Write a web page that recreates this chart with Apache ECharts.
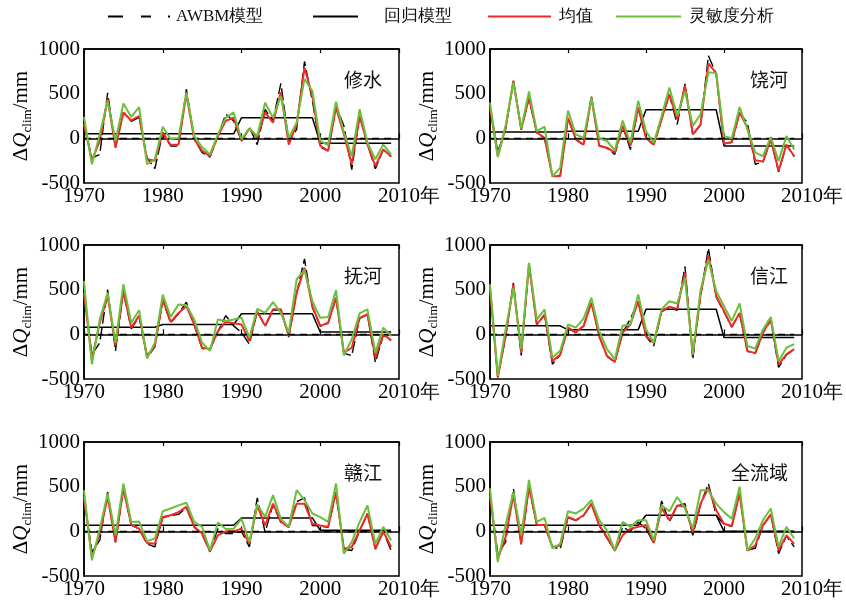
<!DOCTYPE html>
<html>
<head>
<meta charset="utf-8">
<script src="https://cdn.jsdelivr.net/npm/echarts@6/dist/echarts.min.js"></script>
<style>
  html, body { margin: 0; padding: 0; background: #fff; }
  #chart { width: 846px; height: 605px; }
</style>
</head>
<body>
<div id="chart"></div>
<script>
// 年份 1970-2009
const years = [];
for (let y = 1970; y <= 2009; y++) years.push(y);

const panelNames = ['修水', '饶河', '抚河', '信江', '赣江', '全流域'];
const seriesNames = ['AWBM模型', '回归模型', '均值', '灵敏度分析'];
const yTicks = [-500, 0, 500, 1000];
const xTicks = [1970, 1980, 1990, 2000, 2010];

// 修水
const awbm1 = [170,-220,-180,510,-105,290,190,235,-220,-340, 60,-85,-85,550,-10,-160,-210,25,270,195, -30,125,-70,325,195,615,-30,100,860,420, -100,-140,365,140,-350,250,-70,-340,-125,-205];
const reg1 = [50,50,50,50,50,50,50,50,50,50, 50,50,50,50,50,50,50,50,50,50, 230,230,230,230,230,230,230,230,230,230, -55,-55,-55,-55,-55,-55,-55,-55,-55,-55];
const mean1 = [160,-247,-30,440,-100,290,200,250,-235,-250, 65,-75,-70,495,-10,-140,-200,25,195,230, -30,110,10,290,175,515,-70,155,790,475, -85,-140,345,45,-290,250,-70,-310,-125,-200];
const sens1 = [240,-290,45,420,-30,390,240,350,-290,-235, 130,-10,5,515,25,-100,-180,45,230,290, -10,110,25,400,230,475,5,175,665,530, -30,-75,410,65,-200,325,-50,-235,-70,-180];

// 饶河
const awbm2 = [350,-150,100,640,95,450,60,0,-420,-420, 225,-15,-75,475,-80,-110,-180,135,-125,340, 0,-75,210,490,155,610,40,150,925,720, -65,-45,285,175,-290,-265,-15,-375,-75,-205];
const reg2 = [70,70,70,70,70,70,70,70,70,70, 80,80,80,80,80,80,80,80,80,80, 320,320,320,320,320,320,320,320,320,320, -85,-85,-85,-85,-85,-85,-85,-85,-85,-85];
const mean2 = [345,-200,120,645,100,455,65,5,-425,-425, 230,-10,-70,455,-85,-105,-160,140,-85,345, 5,-70,215,495,215,590,45,155,840,730, -60,-40,290,120,-245,-260,-10,-365,-70,-200];
const sens2 = [400,-210,140,625,110,525,80,130,-425,-330, 310,45,5,455,0,-30,-135,200,-50,420, 80,-50,250,570,250,530,140,270,740,730, 25,0,350,100,-160,-200,15,-255,25,-125];

// 抚河
const awbm3 = [470,-225,-95,500,-185,480,60,200,-260,-140, 380,130,230,360,100,-160,-170,30,210,95, 20,-110,255,90,270,275,-30,460,845,300, 90,125,405,-210,-240,180,220,-315,-10,-70];
const reg3 = [80,80,80,80,80,80,80,80,80,80, 110,110,110,110,110,110,110,110,110,110, 230,230,230,230,230,230,230,230,230,230, 25,25,25,25,25,25,25,25,25,25];
const mean3 = [465,-280,130,430,-130,485,75,210,-240,-130, 390,140,240,315,110,-150,-165,35,140,125, 110,-75,260,95,280,280,-20,465,745,315, 95,130,410,-205,-150,185,225,-260,0,-65];
const sens3 = [595,-335,165,465,-95,560,130,270,-270,-95, 445,195,335,325,165,-95,-185,165,150,165, 185,-35,285,240,360,240,20,615,720,370, 185,195,495,-235,-55,235,280,-205,75,-20];

// 信江
const awbm4 = [525,-480,-30,575,-235,780,105,215,-335,-230, 70,20,90,360,-25,-245,-315,15,175,365, -25,-130,255,300,270,760,-280,440,965,420, 250,80,235,-190,-215,15,160,-370,-230,-170];
const reg4 = [95,95,95,95,95,95,95,95,95,95, 50,50,50,50,50,50,50,50,50,50, 280,280,280,280,280,280,280,280,280,280, -35,-35,-35,-35,-35,-35,-35,-35,-35,-35];
const mean4 = [520,-485,-20,560,-205,780,110,225,-300,-225, 75,25,95,355,-20,-240,-310,20,110,370, -20,-95,260,310,285,690,-235,445,890,430, 260,85,240,-185,-210,20,165,-335,-225,-165];
const sens4 = [560,-465,55,520,-165,800,165,280,-260,-185, 110,75,175,410,35,-165,-280,95,110,445, 55,-95,280,370,345,630,-225,500,835,485, 315,150,345,-130,-160,55,195,-300,-150,-110];

// 赣江
const awbm5 = [390,-230,-100,440,-125,475,70,25,-140,-175, 155,175,190,265,45,-35,-230,30,-25,-25, 0,-175,375,-10,300,100,45,330,375,65, 60,45,430,-200,-215,5,195,-200,-5,-215];
const reg5 = [68,68,68,68,68,68,68,68,68,68, 68,68,68,68,68,68,68,68,68,68, 150,150,150,150,150,150,150,150,150,150, 12,12,12,12,12,12,12,12,12,12];
const mean5 = [385,-290,-30,385,-120,480,75,30,-130,-140, 160,180,215,275,50,-25,-225,-45,0,0, 30,-140,290,65,310,105,50,310,310,85, 65,50,440,-195,-175,10,200,-195,0,-175];
const sens5 = [460,-325,30,425,-45,535,105,110,-110,-80, 225,255,290,320,105,50,-215,100,25,30, 140,-120,300,160,405,140,50,460,350,200, 160,105,535,-250,-120,105,290,-140,50,-100];

// 全流域
const awbm6 = [410,-250,-120,480,-145,495,70,65,-170,-200, 155,120,175,305,65,-75,-220,50,0,105, 30,-135,340,105,285,310,-45,300,535,180, 80,55,420,-210,-190,65,185,-250,-50,-175];
const reg6 = [68,68,68,68,68,68,68,68,68,68, 68,68,68,68,68,68,68,68,68,68, 180,180,180,180,180,180,180,180,180,180, 0,0,0,0,0,0,0,0,0,0];
const mean6 = [405,-310,-65,405,-140,500,75,70,-175,-160, 160,125,180,310,70,-65,-215,-45,30,50, 70,-130,260,125,290,275,-10,310,485,235, 85,60,425,-215,-160,70,190,-215,-45,-140];
const sens6 = [480,-345,70,440,-45,575,105,150,-190,-140, 225,200,255,350,125,10,-215,105,50,125, 125,-100,290,225,385,255,30,460,460,310, 215,140,500,-215,-80,125,255,-175,50,-80];

const panels = [
  [awbm1, reg1, mean1, sens1],
  [awbm2, reg2, mean2, sens2],
  [awbm3, reg3, mean3, sens3],
  [awbm4, reg4, mean4, sens4],
  [awbm5, reg5, mean5, sens5],
  [awbm6, reg6, mean6, sens6]
];

const serif = 'Liberation Serif';
const colors = ['#000', '#000', '#ee2a2a', '#6cbf3a'];
const widths = [1.4, 1.5, 2, 2];

// 面板位置
const colLeft = [84, 490];
const rowTop = [49, 245, 442];
const plotW = 315, plotH = 134;

const chart = echarts.init(document.getElementById('chart'));

const grids = [], xAxes = [], yAxes = [], series = [], titles = [];

panels.forEach((vals, i) => {
  const left = colLeft[i % 2];
  const top = rowTop[Math.floor(i / 2)];
  grids.push({ left: left, top: top, width: plotW, height: plotH, show: true, borderColor: '#000', borderWidth: 1.5, backgroundColor: 'transparent' });

  xAxes.push({
    gridIndex: i, type: 'value', min: xTicks[0], max: xTicks[xTicks.length - 1], interval: 10,
    axisLine: { show: true, lineStyle: { color: '#000', width: 1.5 } },
    axisTick: { show: true, inside: true, length: 5, lineStyle: { color: '#000', width: 1.2 } },
    splitLine: { show: false },
    axisLabel: {
      margin: 3, color: '#000', fontSize: 21, fontFamily: serif,
      formatter: v => v === 2010 ? '{p|}{a|2010}{n|年}' : '{a|' + v + '}',
      rich: {
        a: { fontSize: 21, fontFamily: serif, color: '#000' },
        p: { width: 20 },
        n: { fontSize: 20, fontFamily: serif, color: '#000' }
      }
    }
  });
  // 上边框刻度
  xAxes.push({
    gridIndex: i, type: 'value', position: 'top', min: xTicks[0], max: xTicks[xTicks.length - 1], interval: 10,
    axisLine: { show: true, lineStyle: { color: '#000', width: 1.5 } },
    axisTick: { show: true, inside: true, length: 4, lineStyle: { color: '#000', width: 1.2 } },
    axisLabel: { show: false }, splitLine: { show: false }
  });

  yAxes.push({
    gridIndex: i, type: 'value', min: yTicks[0], max: yTicks[yTicks.length - 1], interval: 500,
    axisLine: { show: true, lineStyle: { color: '#000', width: 1.5 } },
    axisTick: { show: false },
    splitLine: { show: false },
    axisLabel: {
      margin: 4, color: '#000', fontSize: 21, fontFamily: serif,
      formatter: v => '{a|' + v + '}',
      rich: { a: { fontSize: 21, fontFamily: serif, color: '#000' } }
    },
    name: '{d|Δ}{q|Q}{s|clim}{d|/mm}',
    nameLocation: 'middle', nameRotate: 90, nameGap: 50,
    nameTextStyle: {
      fontFamily: serif,
      rich: {
        d: { fontSize: 21, fontFamily: serif, color: '#000' },
        q: { fontSize: 21, fontFamily: serif, fontStyle: 'italic', color: '#000' },
        s: { fontSize: 13, fontFamily: serif, color: '#000', verticalAlign: 'bottom', padding: [12, 0, 0, 0] }
      }
    }
  });

  vals.forEach((arr, k) => {
    const s = {
      name: seriesNames[k], type: 'line', xAxisIndex: i * 2, yAxisIndex: i,
      data: years.map((y, j) => [y, arr[j]]),
      symbol: 'none', silent: true, animation: false,
      lineStyle: { color: colors[k], width: widths[k], type: k === 0 ? [12, 4] : 'solid' },
      itemStyle: { color: colors[k] },
      z: 2 + k
    };
    if (k === 1) {
      s.markLine = {
        silent: true, symbol: 'none', label: { show: false }, animation: false,
        lineStyle: { color: '#000', width: 1.3, type: [7, 5] },
        data: [[{ coord: [1970, 0] }, { coord: [2009, 0] }]]
      };
    }
    series.push(s);
  });

  titles.push({
    text: panelNames[i],
    right: 846 - (left + plotW - 17),
    top: top + 21,
    textStyle: { fontSize: 19, fontWeight: 'normal', color: '#111', fontFamily: 'Noto Sans CJK SC' },
    padding: 0
  });
});

const legendText = { fontSize: 17, color: '#111', fontFamily: serif };
const legends = [
  { left: 107, itemWidth: 63, lineStyle: { type: [15, 18, 10, 17, 2, 1] }, data: [seriesNames[0]], textPad: 0 },
  { left: 312, itemWidth: 45, data: [seriesNames[1]], textPad: 21 },
  { left: 487, itemWidth: 63, data: [seriesNames[2]], textPad: 3 },
  { left: 615, itemWidth: 65, data: [seriesNames[3]], textPad: 3 }
].map(l => ({
  left: l.left, top: 8, itemWidth: l.itemWidth, itemHeight: 10, padding: 0,
  data: l.data, selectedMode: false,
  itemStyle: { opacity: 0 },
  lineStyle: l.lineStyle || { type: 'inherit' },
  textStyle: Object.assign({ padding: [0, 0, 0, l.textPad] }, legendText)
}));

chart.setOption({
  animation: false,
  backgroundColor: '#fff',
  textStyle: { fontFamily: serif },
  title: titles,
  legend: legends,
  grid: grids,
  xAxis: xAxes,
  yAxis: yAxes,
  series: series
});
</script>
</body>
</html>
